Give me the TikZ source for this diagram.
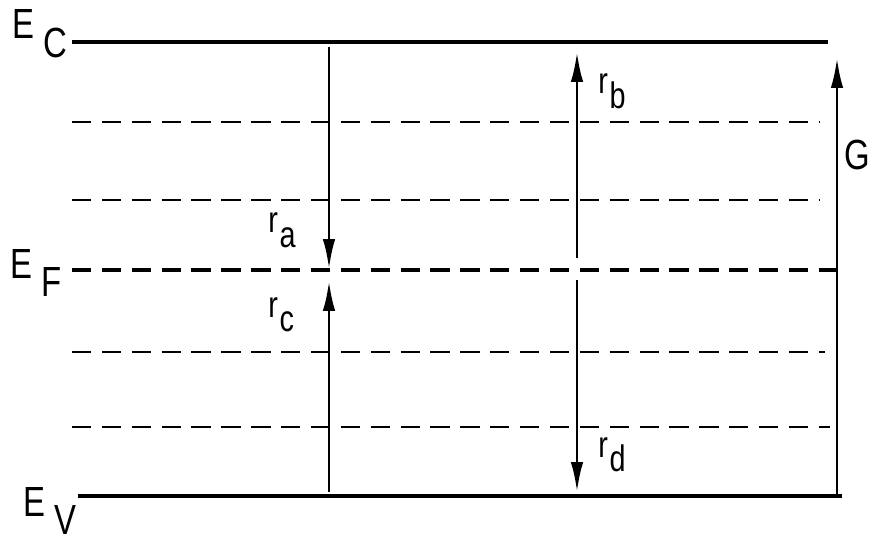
\documentclass[tikz,border=0pt]{standalone}
\usepackage{fontspec}
\newfontfamily\plotfont[FakeStretch=0.78]{Liberation Sans}
\usetikzlibrary{arrows.meta}
\newcommand{\levlabel}[2]{#1\kern5pt\raisebox{-0.45em}{#2}}
\newcommand{\ratelabel}[2]{#1\kern1pt\raisebox{-0.4em}{#2}}

\begin{document}
\begin{tikzpicture}[
    x=0.02cm, y=-0.02cm,
    band/.style={line width=1.9pt},
    trap/.style={line width=1.7pt, dash pattern=on 11pt off 6pt},
    trans/.style={line width=1.6pt, -{Latex[length=6mm,width=2.5mm]}},
    lbl/.style={font=\plotfont\fontsize{24}{26}\selectfont, inner sep=0pt},
    small/.style={font=\plotfont\fontsize{21}{23}\selectfont, inner sep=0pt},
]
\useasboundingbox (0,0) rectangle (872,547);

% energy levels
\coordinate (cL) at (72,42);   \coordinate (cR) at (828,42);
\coordinate (t1L) at (72,122); \coordinate (t1R) at (820,122);
\coordinate (t2L) at (72,200); \coordinate (t2R) at (820,200);
\coordinate (fL) at (72,270);  \coordinate (fR) at (838,270);
\coordinate (t3L) at (72,352); \coordinate (t3R) at (825,352);
\coordinate (t4L) at (72,427); \coordinate (t4R) at (830,427);
\coordinate (vL) at (78,496);  \coordinate (vR) at (842,496);

\draw[band] (cL) -- (cR);
\draw[trap] (t1L) -- (t1R);
\draw[trap] (t2L) -- (t2R);
\draw[trap, line width=1.9pt] (fL) -- (fR);
\draw[trap] (t3L) -- (t3R);
\draw[trap] (t4L) -- (t4R);
\draw[band] (vL) -- (vR);

\node[lbl, anchor=base west] (ec) at (12,39) {\levlabel{E}{C}};
\node[lbl, anchor=base west] (ef) at (10,278) {\levlabel{E}{F}};
\node[lbl, anchor=base west] (ev) at (23,516) {\levlabel{E}{V}};

% transitions
\coordinate (aTop) at (329,47);  \coordinate (aBot) at (329,269);
\coordinate (cTop) at (329,281); \coordinate (cBot) at (329,492);
\coordinate (bTop) at (577,52);  \coordinate (bBot) at (577,258);
\coordinate (dTop) at (577,280); \coordinate (dBot) at (577,492);
\coordinate (gTop) at (837,58);  \coordinate (gBot) at (837,494);

\draw[trans] (aTop) -- (aBot);
\draw[trans] (cBot) -- (cTop);
\draw[trans] (bBot) -- (bTop);
\draw[trans] (dTop) -- (dBot);
\draw[trans] (gBot) -- (gTop);

\node[small, anchor=base west] (ra) at (268,233) {\ratelabel{r}{a}};
\node[small, anchor=base west] (rc) at (268,317) {\ratelabel{r}{c}};
\node[small, anchor=base west] (rb) at (598,94) {\ratelabel{r}{b}};
\node[small, anchor=base west] (rd) at (598,457) {\ratelabel{r}{d}};
\node[lbl, anchor=base east] (g) at (870,170) {G};
\end{tikzpicture}
\end{document}
